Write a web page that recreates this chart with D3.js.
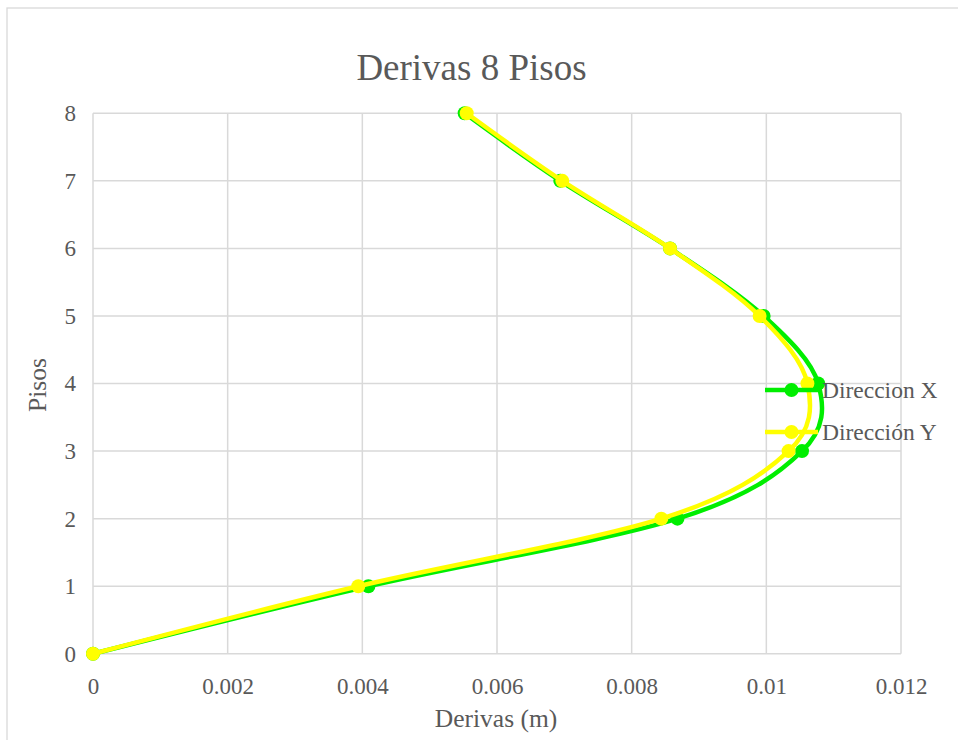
<!DOCTYPE html>
<html><head><meta charset="utf-8">
<script src="https://cdn.jsdelivr.net/npm/d3@7"></script>
<style>html,body{margin:0;padding:0;background:#fff;}svg{display:block;}</style>
</head><body><svg id="c" width="958" height="740"></svg>
<script>
const pisos = [0,1,2,3,4,5,6,7,8];
const derivaX = [0,0.00409,0.00868,0.01053,0.01077,0.00996,0.00857,0.00694,0.00552];
const derivaY = [0,0.00394,0.00844,0.01033,0.01061,0.00990,0.00857,0.00697,0.00555];
const xTicks = [0,0.002,0.004,0.006,0.008,0.01,0.012];
const yTicks = [0,1,2,3,4,5,6,7,8];
const seriesNames = ["Direccion X","Dirección Y"];
const seriesColors = ["#00ee00","#ffff00"];

const svg = d3.select("#c");
const font = '"Liberation Serif"';
const txt = "#595959";
const grid = "#d9d9d9";

svg.append("rect").attr("x",7).attr("y",8).attr("width",980).attr("height",760)
  .attr("fill","#fff").attr("stroke",grid).attr("stroke-width",1.3);

const L=93,R=901,T=113.3,B=653.8;
const x = d3.scaleLinear().domain([0,0.012]).range([L,R]);
const y = d3.scaleLinear().domain([0,8]).range([B,T]);

// grid
svg.append("g").selectAll("line").data(xTicks).join("line")
  .attr("x1",d=>x(d)).attr("x2",d=>x(d)).attr("y1",T).attr("y2",B)
  .attr("stroke",grid).attr("stroke-width",1.5);
svg.append("g").selectAll("line").data(yTicks).join("line")
  .attr("x1",L).attr("x2",R).attr("y1",d=>y(d)).attr("y2",d=>y(d))
  .attr("stroke",grid).attr("stroke-width",1.5);

// axes
const xa = svg.append("g").attr("transform",`translate(0,${B})`)
  .call(d3.axisBottom(x).tickValues(xTicks).tickSize(0).tickPadding(24).tickFormat(d=>String(+d.toFixed(3))));
const ya = svg.append("g").attr("transform",`translate(${L},0)`)
  .call(d3.axisLeft(y).tickValues(yTicks).tickSize(0).tickPadding(17).tickFormat(d3.format("d")));
[xa,ya].forEach(a=>{a.select(".domain").remove();
  a.attr("font-family",null).attr("font-size",null);
  a.selectAll("text").style("font-family",font).style("font-size","23px").attr("fill",txt);});

// title & axis titles
svg.append("text").attr("x",471.5).attr("y",80).attr("text-anchor","middle")
  .style("font-family",font).style("font-size","37px").attr("fill",txt).text("Derivas 8 Pisos");
svg.append("text").attr("x",496).attr("y",727).attr("text-anchor","middle")
  .style("font-family",font).style("font-size","25.5px").attr("fill",txt).text("Derivas (m)");
svg.append("text").attr("transform","translate(46,385) rotate(-90)").attr("text-anchor","middle")
  .style("font-family",font).style("font-size","25.5px").attr("fill",txt).text("Pisos");

// series
const line = d3.line().x(d=>x(d[0])).y(d=>y(d[1])).curve(d3.curveCardinal.tension(0));
[derivaX,derivaY].forEach((vals,i)=>{
  const pts = vals.map((v,k)=>[v,pisos[k]]);
  const g = svg.append("g");
  g.append("path").attr("d",line(pts)).attr("fill","none")
    .attr("stroke",seriesColors[i]).attr("stroke-width",4.5).attr("stroke-linejoin","round");
  g.selectAll("circle").data(pts).join("circle")
    .attr("cx",d=>x(d[0])).attr("cy",d=>y(d[1])).attr("r",7).attr("fill",seriesColors[i]);
});

// legend
const lg = svg.append("g");
[390,432].forEach((ly,i)=>{
  lg.append("line").attr("x1",765).attr("x2",818).attr("y1",ly).attr("y2",ly)
    .attr("stroke",seriesColors[i]).attr("stroke-width",4.5);
  lg.append("circle").attr("cx",791.5).attr("cy",ly).attr("r",7).attr("fill",seriesColors[i]);
  lg.append("text").attr("x",822).attr("y",ly+8).style("font-family",font).style("font-size","23.5px")
    .attr("fill",txt).text(seriesNames[i]);
});
</script></body></html>
